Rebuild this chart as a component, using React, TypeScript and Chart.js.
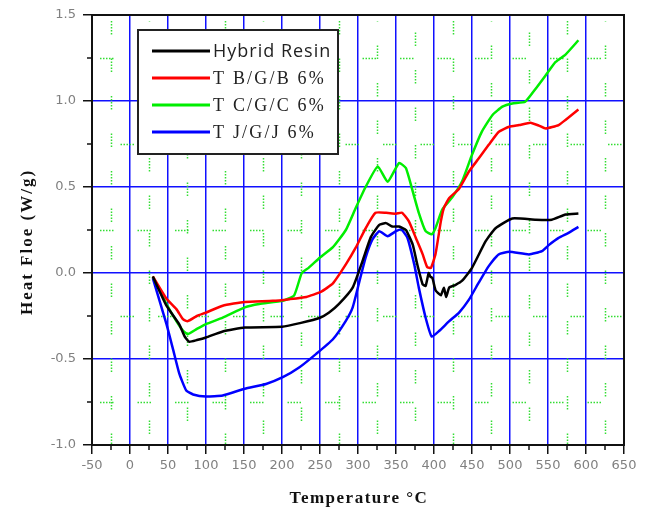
import React, { useEffect, useRef } from "react";
import { Chart, registerables } from "chart.js";

Chart.register(...registerables);

// ---------- data ----------
const seriesLabels = ["Hybrid Resin", "T B/G/B 6%", "T C/G/C 6%", "T J/G/J 6%"];
const seriesColors = ["#000000", "#ff0000", "#00ee00", "#0000ff"];

const hybridT = [30, 48, 65, 72, 78, 88, 100, 122, 151, 200, 225, 250, 262, 275, 293, 306, 317, 328, 337, 345, 354, 363, 372, 378, 385, 389, 393, 395, 398, 402, 409, 413, 416, 420, 428, 437, 450, 468, 481, 503, 534, 555, 573, 590];
const hybridV = [-0.02, -0.19, -0.3, -0.37, -0.4, -0.39, -0.375, -0.34, -0.317, -0.313, -0.29, -0.26, -0.23, -0.18, -0.085, 0.07, 0.21, 0.28, 0.29, 0.27, 0.27, 0.25, 0.165, 0.05, -0.065, -0.075, 0.0, -0.02, -0.03, -0.1, -0.13, -0.085, -0.14, -0.085, -0.07, -0.045, 0.03, 0.185, 0.26, 0.317, 0.31, 0.31, 0.34, 0.346];

const tbgbT = [30, 48, 61, 70, 76, 88, 100, 122, 151, 188, 210, 232, 251, 267, 284, 297, 310, 323, 337, 350, 358, 367, 376, 385, 391, 396, 402, 409, 413, 420, 433, 446, 459, 472, 485, 499, 512, 527, 538, 547, 564, 573, 590];
const tbgbV = [-0.02, -0.15, -0.21, -0.27, -0.28, -0.25, -0.23, -0.19, -0.168, -0.162, -0.152, -0.139, -0.11, -0.06, 0.05, 0.147, 0.26, 0.35, 0.35, 0.345, 0.35, 0.3, 0.205, 0.11, 0.035, 0.03, 0.11, 0.3, 0.378, 0.436, 0.49, 0.59, 0.667, 0.745, 0.82, 0.85, 0.86, 0.874, 0.857, 0.84, 0.86, 0.89, 0.95];

const tcgcT = [30, 48, 61, 70, 76, 88, 100, 122, 151, 170, 201, 216, 226, 235, 250, 267, 284, 297, 310, 326, 339, 354, 363, 372, 380, 389, 397, 402, 411, 424, 437, 450, 463, 477, 490, 503, 520, 534, 547, 560, 573, 590];
const tcgcV = [-0.02, -0.18, -0.28, -0.336, -0.355, -0.325, -0.297, -0.26, -0.2, -0.18, -0.162, -0.13, 0.0, 0.03, 0.09, 0.15, 0.25, 0.378, 0.5, 0.62, 0.53, 0.64, 0.61, 0.475, 0.35, 0.243, 0.225, 0.262, 0.37, 0.44, 0.533, 0.687, 0.822, 0.919, 0.967, 0.986, 0.996, 1.073, 1.15, 1.227, 1.27, 1.353];

const tjgjT = [30, 48, 57, 65, 74, 83, 100, 122, 151, 179, 201, 223, 245, 267, 284, 293, 302, 310, 319, 328, 339, 350, 357, 365, 374, 380, 389, 397, 407, 420, 433, 446, 459, 472, 485, 499, 525, 542, 551, 564, 577, 590];
const tjgjV = [-0.03, -0.297, -0.45, -0.587, -0.683, -0.706, -0.718, -0.712, -0.673, -0.645, -0.606, -0.548, -0.47, -0.385, -0.278, -0.2, -0.046, 0.09, 0.195, 0.243, 0.214, 0.243, 0.253, 0.205, 0.05, -0.085, -0.26, -0.37, -0.336, -0.28, -0.23, -0.155, -0.055, 0.04, 0.108, 0.123, 0.108, 0.127, 0.162, 0.204, 0.233, 0.268];

const xTickValues = [-50, 0, 50, 100, 150, 200, 250, 300, 350, 400, 450, 500, 550, 600, 650];
const xTickLabels = ["-50", "0", "50", "100", "150", "200", "250", "300", "350", "400", "450", "500", "550", "600", "650"];
const yTickValues = [-1.0, -0.5, 0.0, 0.5, 1.0, 1.5];
const yTickLabels = ["-1.0", "-0.5", "0.0", "0.5", "1.0", "1.5"];

const xTitle = "Temperature \u00B0C";
const yTitle = "Heat Floe (W/g)";

// ---------- plugin ----------
const decorPlugin = {
  id: "decor",
  beforeDatasetsDraw(chart: any) {
    const { ctx, chartArea: a, scales } = chart;
    const xs = scales.x;
    const ys = scales.y;
    ctx.save();
    ctx.beginPath();
    ctx.rect(a.left, a.top, a.right - a.left, a.bottom - a.top);
    ctx.clip();
    ctx.strokeStyle = "#33dd33";
    ctx.lineWidth = 1.5;
    ctx.setLineDash([1.5, 1.5, 1.5, 1.5, 1.5, 1.5, 1.5, 1.5, 1.5, 24]);
    for (let i = 0; i < xTickValues.length - 1; i++) {
      const v = (xTickValues[i] + xTickValues[i + 1]) / 2;
      const px = Math.round(xs.getPixelForValue(v)) + 0.5;
      ctx.lineDashOffset = (i % 3) * 13;
      ctx.beginPath();
      ctx.moveTo(px, a.top + 6);
      ctx.lineTo(px, a.bottom);
      ctx.stroke();
    }
    for (let i = 0; i < yTickValues.length - 1; i++) {
      const v = (yTickValues[i] + yTickValues[i + 1]) / 2;
      const py = Math.round(ys.getPixelForValue(v)) + 0.5;
      ctx.lineDashOffset = (i % 2) * 17;
      ctx.beginPath();
      ctx.moveTo(a.left + 8, py);
      ctx.lineTo(a.right, py);
      ctx.stroke();
    }
    ctx.restore();
  },
  afterDatasetsDraw(chart: any) {
    const { ctx, chartArea: a, scales } = chart;
    const xs = scales.x;
    const ys = scales.y;
    ctx.save();
    // frame
    ctx.strokeStyle = "#111";
    ctx.lineWidth = 2;
    ctx.strokeRect(a.left, a.top, a.right - a.left, a.bottom - a.top);
    // minor ticks
    ctx.lineWidth = 1.5;
    for (let i = 0; i < xTickValues.length - 1; i++) {
      const px = xs.getPixelForValue((xTickValues[i] + xTickValues[i + 1]) / 2);
      ctx.beginPath();
      ctx.moveTo(px, a.bottom);
      ctx.lineTo(px, a.bottom + 5);
      ctx.stroke();
    }
    for (let i = 0; i < yTickValues.length - 1; i++) {
      const py = ys.getPixelForValue((yTickValues[i] + yTickValues[i + 1]) / 2);
      ctx.beginPath();
      ctx.moveTo(a.left, py);
      ctx.lineTo(a.left - 5, py);
      ctx.stroke();
    }
    // legend
    const bx = 138, by = 30, bw = 200, bh = 124;
    ctx.fillStyle = "#ffffff";
    ctx.fillRect(bx, by, bw, bh);
    ctx.strokeStyle = "#222";
    ctx.lineWidth = 2;
    ctx.strokeRect(bx, by, bw, bh);
    chart.data.datasets.forEach((ds: any, i: number) => {
      const ry = by + 21 + i * 27;
      ctx.strokeStyle = ds.borderColor;
      ctx.lineWidth = 3;
      ctx.beginPath();
      ctx.moveTo(bx + 14, ry);
      ctx.lineTo(bx + 72, ry);
      ctx.stroke();
      ctx.fillStyle = "#222";
      ctx.textBaseline = "middle";
      ctx.textAlign = "left";
      if (i === 0) {
        ctx.font = '18px "Open Sans"';
        (ctx as any).letterSpacing = "1px";
      } else {
        ctx.font = '18px "Liberation Serif"';
        (ctx as any).letterSpacing = "2.2px";
      }
      ctx.fillText(ds.label, bx + 75, ry + 1);
    });
    (ctx as any).letterSpacing = "0px";
    ctx.restore();
  },
  afterDraw(chart: any) {
    const { ctx, chartArea: a } = chart;
    ctx.save();
    ctx.fillStyle = "#111";
    ctx.textAlign = "center";
    ctx.textBaseline = "middle";
    ctx.font = 'bold 17px "Liberation Serif"';
    (ctx as any).letterSpacing = "1.5px";
    ctx.fillText(xTitle, (a.left + a.right) / 2 + 1, 499);
    ctx.translate(28, 242);
    ctx.rotate(-Math.PI / 2);
    (ctx as any).letterSpacing = "2px";
    ctx.fillText(yTitle, 0, 0);
    ctx.restore();
  },
};

export default function App() {
  const ref = useRef<HTMLCanvasElement | null>(null);
  useEffect(() => {
    if (!ref.current) return;
    const mk = (t: number[], v: number[]) => t.map((x, i) => ({ x, y: v[i] }));
    const dataSets = [mk(hybridT, hybridV), mk(tbgbT, tbgbV), mk(tcgcT, tcgcV), mk(tjgjT, tjgjV)];
    const chart = new Chart(ref.current, {
      type: "line",
      data: {
        datasets: dataSets.map((d, i) => ({
          label: seriesLabels[i],
          data: d,
          borderColor: seriesColors[i],
          backgroundColor: seriesColors[i],
          borderWidth: 2.5,
          pointRadius: 0,
          tension: 0.15,
          fill: false,
        })),
      },
      options: {
        animation: false,
        responsive: false,
        devicePixelRatio: 1,
        layout: { padding: { left: 0, top: 15, right: 22, bottom: 0 } },
        plugins: { legend: { display: false }, tooltip: { enabled: false } },
        scales: {
          x: {
            type: "linear",
            min: -50,
            max: 650,
            afterBuildTicks: (s: any) => {
              s.ticks = xTickValues.map((v) => ({ value: v }));
            },
            afterFit: (s: any) => {
              s.height = 68;
            },
            grid: { color: "#1010ff", lineWidth: 1.5, tickColor: "#111", tickLength: 9, tickWidth: 1.5 },
            border: { display: true, color: "#111", width: 2 },
            ticks: {
              autoSkip: false,
              maxRotation: 0,
              padding: 4,
              color: "#808080",
              font: { family: '"DejaVu Sans"', size: 13 },
              callback: (v: any) => xTickLabels[xTickValues.indexOf(Number(v))] ?? "",
            },
          },
          y: {
            type: "linear",
            min: -1,
            max: 1.5,
            afterBuildTicks: (s: any) => {
              s.ticks = yTickValues.map((v) => ({ value: v }));
            },
            afterFit: (s: any) => {
              s.width = 92;
            },
            grid: { color: "#1010ff", lineWidth: 1.5, tickColor: "#111", tickLength: 9, tickWidth: 1.5 },
            border: { display: true, color: "#111", width: 2 },
            ticks: {
              autoSkip: false,
              padding: 7,
              color: "#808080",
              font: { family: '"DejaVu Sans"', size: 13 },
              callback: (v: any) => {
                const idx = yTickValues.findIndex((t) => Math.abs(t - Number(v)) < 1e-9);
                return idx >= 0 ? yTickLabels[idx] : "";
              },
            },
          },
        },
      },
      plugins: [decorPlugin],
    } as any);
    return () => chart.destroy();
  }, []);
  return (
    <div style={{ position: "fixed", left: 0, top: 0, width: 646, height: 513, background: "#fff" }}>
      <canvas ref={ref} width={646} height={513} style={{ width: 646, height: 513, display: "block" }} />
    </div>
  );
}
